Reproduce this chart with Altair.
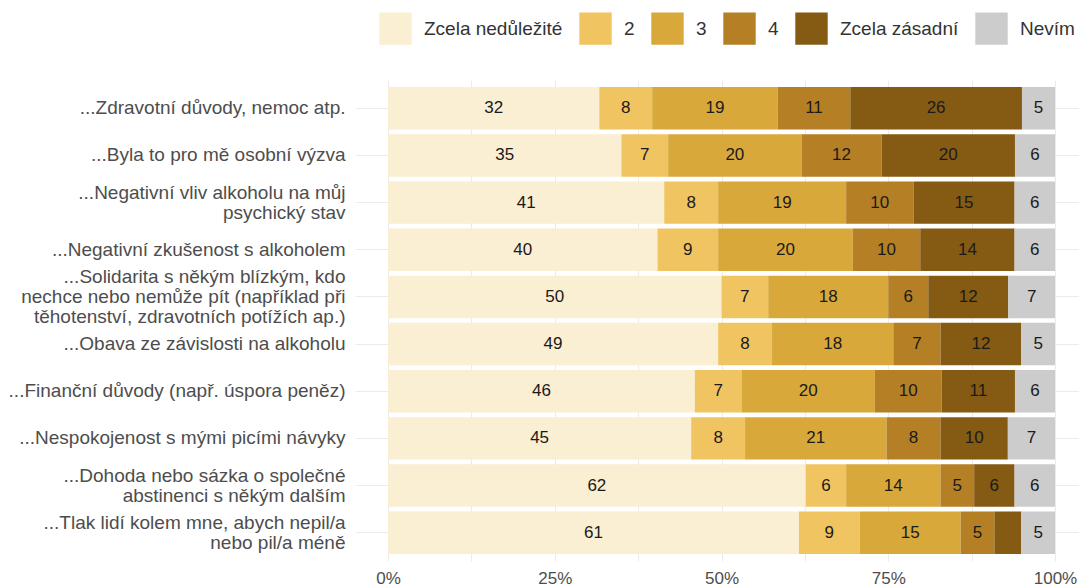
import altair as alt
import pandas as pd

categories = [
    "...Zdravotní důvody, nemoc atp.",
    "...Byla to pro mě osobní výzva",
    "...Negativní vliv alkoholu na můj|psychický stav",
    "...Negativní zkušenost s alkoholem",
    "...Solidarita s někým blízkým, kdo|nechce nebo nemůže pít (například při|těhotenství, zdravotních potížích ap.)",
    "...Obava ze závislosti na alkoholu",
    "...Finanční důvody (např. úspora peněz)",
    "...Nespokojenost s mými picími návyky",
    "...Dohoda nebo sázka o společné|abstinenci s někým dalším",
    "...Tlak lidí kolem mne, abych nepil/a|nebo pil/a méně",
]
levels = ["Zcela nedůležité", "2", "3", "4", "Zcela zásadní", "Nevím"]
colors = ["#FAEED3", "#F0C561", "#D9A83B", "#B47F25", "#855B13", "#CCCCCC"]

v_lvl1 = [32, 35, 41, 40, 50, 49, 46, 45, 62, 61]
v_lvl2 = [8, 7, 8, 9, 7, 8, 7, 8, 6, 9]
v_lvl3 = [19, 20, 19, 20, 18, 18, 20, 21, 14, 15]
v_lvl4 = [11, 12, 10, 10, 6, 7, 10, 8, 5, 5]
v_lvl5 = [26, 20, 15, 14, 12, 12, 11, 10, 6, 4]
v_nevim = [5, 6, 6, 6, 7, 5, 6, 7, 6, 5]

series = [v_lvl1, v_lvl2, v_lvl3, v_lvl4, v_lvl5, v_nevim]
rows = []
for li, (lvl, vals) in enumerate(zip(levels, series)):
    for ci, cat in enumerate(categories):
        rows.append({"category": cat, "level": lvl, "order": li, "value": vals[ci]})
df = pd.DataFrame(rows)

font = "Liberation Sans"

base = alt.Chart(df).transform_joinaggregate(
    total="sum(value)", groupby=["category"]
).transform_window(
    cum="sum(value)", sort=[alt.SortField("order")], groupby=["category"],
    frame=[None, 0]
).transform_calculate(
    x0="(datum.cum - datum.value) / datum.total",
    x1="datum.cum / datum.total",
    xm="(datum.cum - datum.value / 2) / datum.total",
)

xscale = alt.Scale(domain=[-0.0495, 1.036], nice=False, zero=False)
yenc = alt.Y(
    "category:N", sort=categories, title=None,
    scale=alt.Scale(paddingInner=0.1, paddingOuter=0.15),
    axis=alt.Axis(
        labelExpr="split(datum.label, '|')", labelFontSize=19, labelFont=font,
        labelColor="#4D4D4D", labelLineHeight=20, labelPadding=10,
        labelOffset={
            "condition": [
                {"test": "length(split(datum.value, '|')) == 3", "value": -20},
                {"test": "length(split(datum.value, '|')) == 2", "value": -10},
            ],
            "value": 0,
        },
        ticks=False, domain=False, grid=True, gridColor="#EBEBEB",
        bandPosition=0.5, labelLimit=500,
    ),
)

bars = base.mark_bar().encode(
    x=alt.X(
        "x0:Q", scale=xscale, title=None,
        axis=alt.Axis(
            values=[0, 0.125, 0.25, 0.375, 0.5, 0.625, 0.75, 0.875, 1.0],
            labelExpr="(round(datum.value * 1000) % 250 == 0) ? format(datum.value, '.0%') : ''",
            labelFontSize=17, labelFont=font, labelColor="#4D4D4D",
            ticks=False, domain=False, grid=True, gridColor="#EBEBEB",
            labelPadding=9,
        ),
    ),
    x2="x1:Q",
    y=yenc,
    color=alt.Color(
        "level:N", sort=levels,
        scale=alt.Scale(domain=levels, range=colors),
        legend=alt.Legend(
            title=None, orient="none", direction="horizontal",
            legendX=24, legendY=-68,
            symbolType="square", symbolSize=1050, symbolStrokeWidth=0,
            labelFontSize=19, labelFont=font, labelColor="#333333",
            labelOffset=12, columnPadding=16,
        ),
    ),
    order=alt.Order("order:Q"),
)

labels = base.transform_filter("datum.value >= 5").mark_text(
    fontSize=17, font=font, color="#1A1A1A"
).encode(
    x=alt.X("xm:Q", scale=xscale),
    y=alt.Y("category:N", sort=categories),
    text=alt.Text("value:Q"),
)

chart = alt.layer(bars, labels).properties(
    width=724, height=481,
    padding={"left": 0, "top": 4, "right": 0, "bottom": 0},
).configure_view(stroke=None)

chart.save("out.html", embed_options={"renderer": "svg", "actions": False})
